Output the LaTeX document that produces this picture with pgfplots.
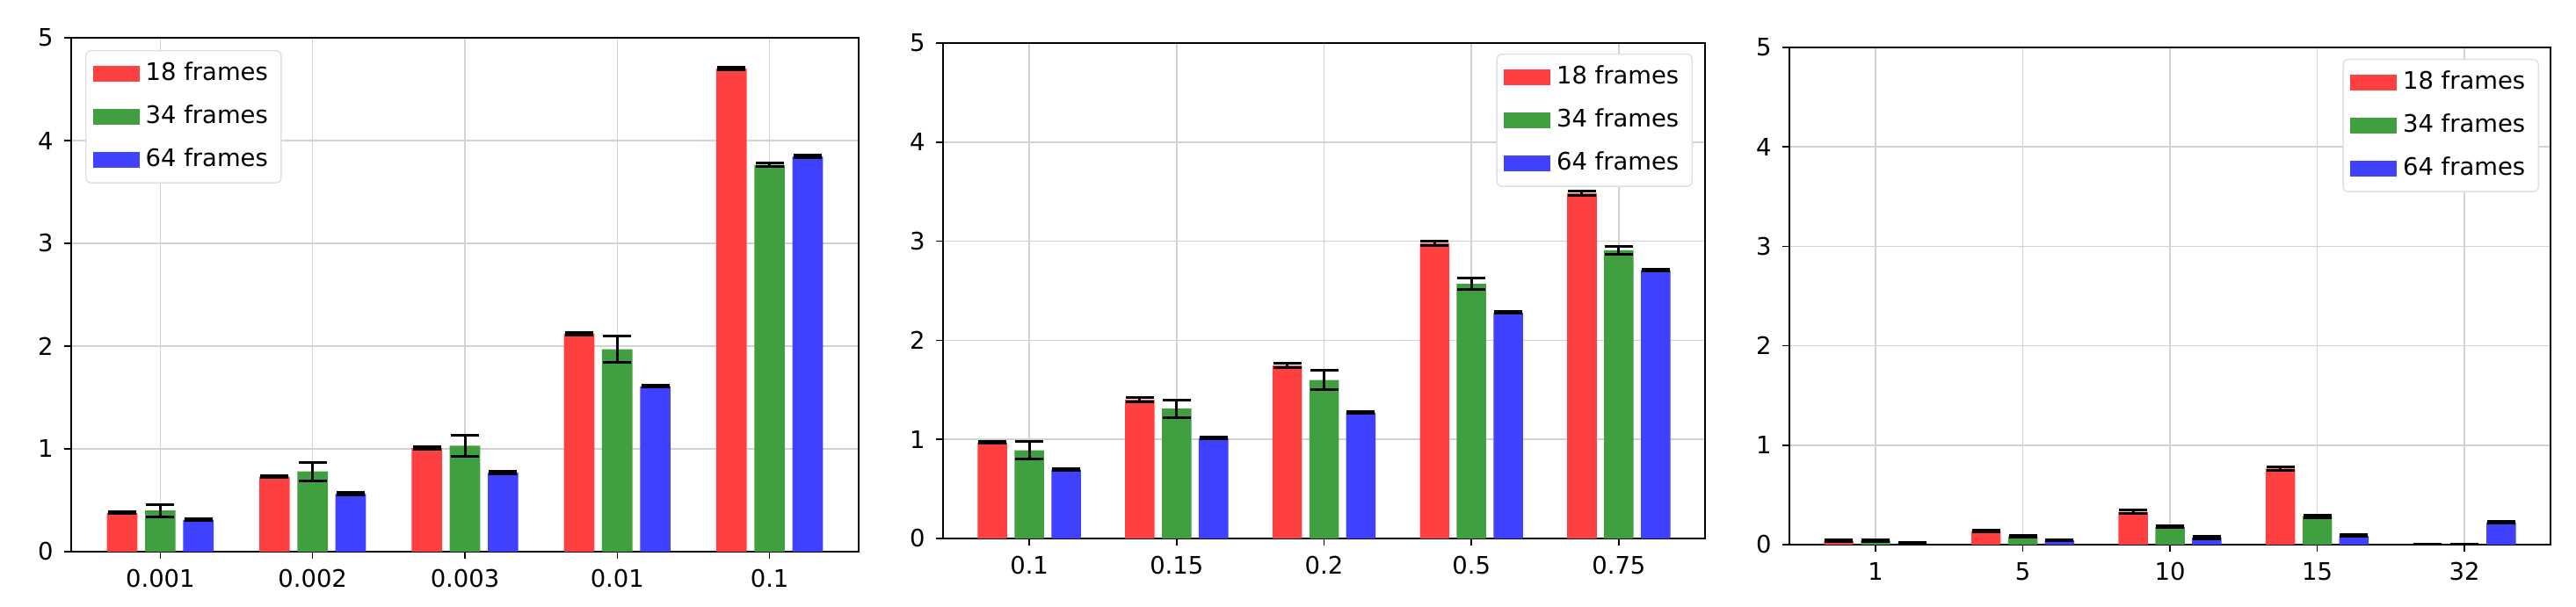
\documentclass[border=0pt]{standalone}
\usepackage{fontspec}
\setmainfont{DejaVu Sans}
\usepackage{pgfplots}
\usepackage{pgfplotstable}
\pgfplotsset{compat=1.18}
\definecolor{cr}{RGB}{255,64,64}
\definecolor{cg}{RGB}{64,160,64}
\definecolor{cb}{RGB}{64,64,255}

\pgfplotstableread{
x r re g ge b be
0 0.38 0.012 0.40 0.06 0.31 0.01
1 0.73 0.008 0.78 0.09 0.565 0.01
2 1.01 0.01 1.03 0.105 0.77 0.01
3 2.12 0.01 1.97 0.125 1.61 0.01
4 4.70 0.015 3.765 0.02 3.845 0.01
}\tabA
\pgfplotstableread{
x r re g ge b be
0 0.97 0.01 0.89 0.09 0.695 0.01
1 1.40 0.02 1.31 0.09 1.015 0.01
2 1.745 0.02 1.60 0.10 1.27 0.01
3 2.98 0.02 2.57 0.06 2.28 0.01
4 3.485 0.02 2.91 0.04 2.71 0.01
}\tabB
\pgfplotstableread{
x r re g ge b be
0 0.04 0.01 0.04 0.01 0.015 0.01
1 0.135 0.01 0.085 0.01 0.045 0.005
2 0.33 0.02 0.18 0.01 0.07 0.01
3 0.765 0.02 0.285 0.015 0.09 0.01
4 0 0 0 0 0.225 0.005
}\tabC

\newcommand{\fs}{\fontsize{7.8}{9}\selectfont}
\pgfplotsset{
  panel/.style={
    scale only axis,
    ymin=0, ymax=5, xmin=-0.585, xmax=4.585,
    ytick={0,1,2,3,4,5}, xtick={0,1,2,3,4},
    tick pos=left, tick align=outside, major tick length=0.8mm,
    tick style={black, line width=0.15mm},
    grid=major, major grid style={gray!35, line width=0.15mm},
    axis line style={black, line width=0.18mm},
    tick label style={font=\fs},
    /pgf/number format/assume math mode=true,
    legend style={font=\fs, draw=gray!25, rounded corners=0.6mm, fill=white,
      inner xsep=0.8mm, inner ysep=0.6mm,
      row sep=0.9mm, cells={anchor=west}},
    legend image code/.code={\fill[##1, sharp corners, fill opacity=1] (0mm,-0.9mm) rectangle (5.3mm,0.9mm);},
  },
  bb/.style={ybar, bar width=0.2, bar shift=0pt, draw=none, fill=#1,
    error bars/.cd, y dir=both, y explicit,
    error bar style={black, line width=0.3mm},
    error mark options={rotate=90, black, mark size=1.6mm, line width=0.3mm}},
}

\begin{document}
\begin{tikzpicture}
\useasboundingbox (0,0) rectangle (293.1mm,69mm);

\begin{axis}[panel, at={(8.1mm,6.2mm)}, anchor=south west,
  width=89.6mm, height=58.5mm,
  xticklabels={0.001,0.002,0.003,0.01,0.1},
  legend style={at={(0,1)}, anchor=north west, xshift=1.6mm, yshift=-1.4mm}]
\addplot[bb=cr] table[x expr=\thisrow{x}-0.25, y=r, y error=re]{\tabA};
\addplot[bb=cg] table[x=x, y=g, y error=ge]{\tabA};
\addplot[bb=cb] table[x expr=\thisrow{x}+0.25, y=b, y error=be]{\tabA};
\legend{18 frames,34 frames,64 frames}
\end{axis}

\begin{axis}[panel, at={(107.3mm,7.7mm)}, anchor=south west,
  width=86.7mm, height=56.4mm,
  xticklabels={0.1,0.15,0.2,0.5,0.75},
  legend style={at={(1,1)}, anchor=north east, xshift=-1.4mm, yshift=-1.2mm}]
\addplot[bb=cr] table[x expr=\thisrow{x}-0.25, y=r, y error=re]{\tabB};
\addplot[bb=cg] table[x=x, y=g, y error=ge]{\tabB};
\addplot[bb=cb] table[x expr=\thisrow{x}+0.25, y=b, y error=be]{\tabB};
\legend{18 frames,34 frames,64 frames}
\end{axis}

\begin{axis}[panel, at={(203.6mm,7.0mm)}, anchor=south west,
  width=86.6mm, height=56.6mm,
  xticklabels={1,5,10,15,32},
  legend style={at={(1,1)}, anchor=north east, xshift=-1.3mm, yshift=-1.3mm}]
\addplot[bb=cr] table[x expr=\thisrow{x}-0.25, y=r, y error=re]{\tabC};
\addplot[bb=cg] table[x=x, y=g, y error=ge]{\tabC};
\addplot[bb=cb] table[x expr=\thisrow{x}+0.25, y=b, y error=be]{\tabC};
\legend{18 frames,34 frames,64 frames}
\end{axis}
\end{tikzpicture}
\end{document}
